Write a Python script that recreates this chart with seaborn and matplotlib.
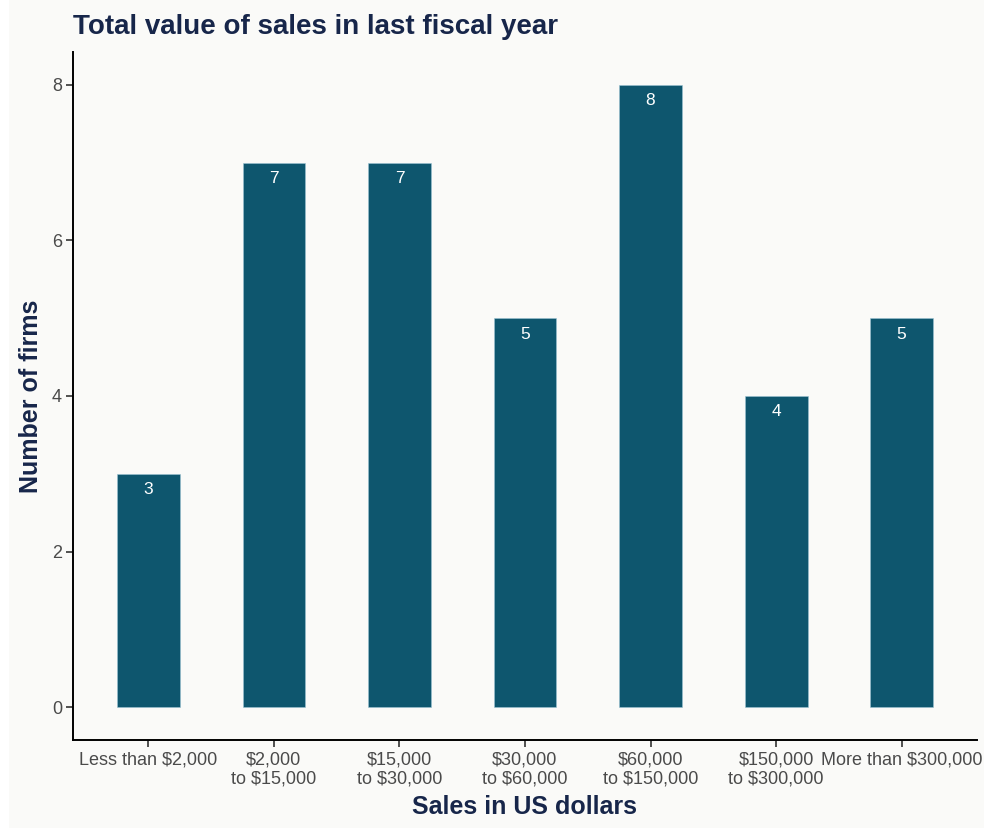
import matplotlib
matplotlib.use("Agg")
import matplotlib.pyplot as plt
import seaborn as sns
import pandas as pd
from matplotlib.patches import Rectangle

# Survey counts of firms by total sales bracket
categories = [
    "Less than $2,000",
    "$2,000\nto $15,000",
    "$15,000\nto $30,000",
    "$30,000\nto $60,000",
    "$60,000\nto $150,000",
    "$150,000\nto $300,000",
    "More than $300,000",
]
firm_counts = [3, 7, 7, 5, 8, 4, 5]
y_ticks = [0, 2, 4, 6, 8]

df = pd.DataFrame({"bracket": categories, "firms": firm_counts})

sns.set_theme(style="ticks")
plt.rcParams["font.family"] = ["Liberation Sans", "DejaVu Sans"]

BG = "#FAFAF8"
BAR = "#0E566E"
NAVY = "#17264A"
TICK_TXT = "#4A4A4A"

fig = plt.figure(figsize=(9.84, 8.31), dpi=100, facecolor="white")
fig.patches.append(Rectangle((9 / 984, 3 / 831), 1 - 9 / 984, 1 - 3 / 831,
                             transform=fig.transFigure, facecolor=BG,
                             edgecolor="none", zorder=-10))

ax = fig.add_axes([73 / 984, 91 / 831, (977 - 73) / 984, (740 - 52) / 831])
ax.set_facecolor(BG)

sns.barplot(data=df, x="bracket", y="firms", order=categories, color=BAR,
            width=0.5, saturation=1, edgecolor="#9CC3D3", linewidth=0.4, ax=ax)

for i, v in enumerate(firm_counts):
    ax.annotate(str(v), xy=(i, v), xytext=(0, -6), textcoords="offset points",
                ha="center", va="top", color="white", fontsize=12.5)

ax.set_xlim(-0.6, 6.6)
ax.set_ylim(-0.42, 8.42)
ax.set_yticks(y_ticks)
ax.set_yticklabels([str(t) for t in y_ticks])

for side in ("top", "right"):
    ax.spines[side].set_visible(False)
for side in ("left", "bottom"):
    ax.spines[side].set_color("black")
    ax.spines[side].set_linewidth(1.4)

ax.tick_params(axis="both", colors="#333333", length=5, width=1.2,
               labelsize=13, labelcolor=TICK_TXT, pad=3)
for lbl in ax.get_xticklabels():
    lbl.set_linespacing(1.2)

ax.set_xlabel("Sales in US dollars", fontsize=18, fontweight="bold",
              color=NAVY, labelpad=5)
ax.set_ylabel("Number of firms", fontsize=18, fontweight="bold",
              color=NAVY, labelpad=6)

fig.text(73 / 984, 1 - 27 / 831, "Total value of sales in last fiscal year",
         fontsize=20, fontweight="bold", color=NAVY, ha="left", va="center")

fig.savefig("out.png", dpi=100, facecolor=fig.get_facecolor())
